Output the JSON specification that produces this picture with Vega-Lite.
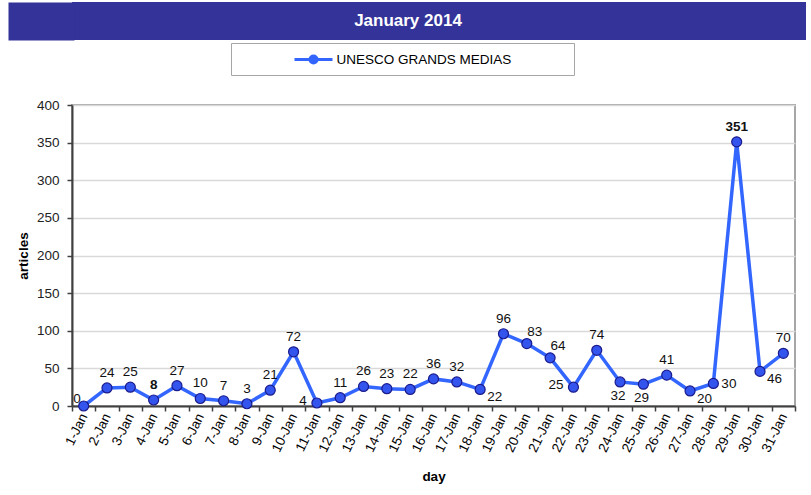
{
  "$schema": "https://vega.github.io/schema/vega-lite/v6.json",
  "padding": {"left": -11, "top": 2, "right": 0, "bottom": 0},
  "background": "white",
  "spacing": 57,
  "config": {"font": "Liberation Sans", "view": {"stroke": null}},
  "vconcat": [
    {
      "width": 734,
      "height": 38,
      "view": {"fill": "#333399", "stroke": null},
      "data": {"values": [{"title": "January 2014"}]},
      "mark": {"type": "text", "color": "white", "fontSize": 17, "fontWeight": "bold", "baseline": "middle", "dx": -31},
      "encoding": {
        "text": {"field": "title", "type": "nominal"},
        "y": {
          "datum": 0, "type": "quantitative",
          "scale": {"domain": [-1, 1]},
          "axis": {"values": [0], "offset": -2, "tickSize": 66, "tickWidth": 38, "tickColor": "#333399", "tickOpacity": 1, "labels": false, "domain": false, "grid": false, "title": null}
        }
      }
    },
    {
      "width": 723,
      "height": 301,
      "view": {"stroke": "#a6a6a6", "strokeWidth": 2},
      "data": {"values": [
        {"day": "1-Jan", "articles": 0},
        {"day": "2-Jan", "articles": 24},
        {"day": "3-Jan", "articles": 25},
        {"day": "4-Jan", "articles": 8},
        {"day": "5-Jan", "articles": 27},
        {"day": "6-Jan", "articles": 10},
        {"day": "7-Jan", "articles": 7},
        {"day": "8-Jan", "articles": 3},
        {"day": "9-Jan", "articles": 21},
        {"day": "10-Jan", "articles": 72},
        {"day": "11-Jan", "articles": 4},
        {"day": "12-Jan", "articles": 11},
        {"day": "13-Jan", "articles": 26},
        {"day": "14-Jan", "articles": 23},
        {"day": "15-Jan", "articles": 22},
        {"day": "16-Jan", "articles": 36},
        {"day": "17-Jan", "articles": 32},
        {"day": "18-Jan", "articles": 22},
        {"day": "19-Jan", "articles": 96},
        {"day": "20-Jan", "articles": 83},
        {"day": "21-Jan", "articles": 64},
        {"day": "22-Jan", "articles": 25},
        {"day": "23-Jan", "articles": 74},
        {"day": "24-Jan", "articles": 32},
        {"day": "25-Jan", "articles": 29},
        {"day": "26-Jan", "articles": 41},
        {"day": "27-Jan", "articles": 20},
        {"day": "28-Jan", "articles": 30},
        {"day": "29-Jan", "articles": 351},
        {"day": "30-Jan", "articles": 46},
        {"day": "31-Jan", "articles": 70}
      ]},
      "encoding": {
        "x": {
          "field": "day", "type": "ordinal", "sort": null,
          "scale": {"type": "band", "paddingInner": 0, "paddingOuter": 0},
          "axis": {
            "title": "day", "labelAngle": -64, "labelFontSize": 13.5, "labelColor": "#000",
            "labelPadding": 3, "tickBand": "extent", "tickSize": 5, "tickColor": "#404040",
            "tickWidth": 1.5, "domainColor": "#404040", "domainWidth": 2,
            "titleFontSize": 13.5, "titleFontWeight": "bold", "titleColor": "#000",
            "titlePadding": 16, "grid": false, "labelOverlap": false
          }
        },
        "y": {
          "field": "articles", "type": "quantitative",
          "scale": {"domain": [0, 400], "nice": false},
          "axis": {
            "title": "articles",
            "values": [0, 50, 100, 150, 200, 250, 300, 350, 400],
            "grid": true, "gridColor": "#d9d9d9", "gridWidth": 1.5,
            "domainColor": "#404040", "domainWidth": 2, "tickColor": "#404040",
            "tickSize": 5, "tickWidth": 1.5, "labelPadding": 8, "labelFontSize": 13.5,
            "labelColor": "#222", "titleFontSize": 13.5, "titleFontWeight": "bold",
            "titleColor": "#000", "titlePadding": 6
          }
        }
      },
      "layer": [
        {
          "mark": {"type": "line", "strokeWidth": 3.5},
          "encoding": {
            "color": {
              "datum": "UNESCO GRANDS MEDIAS",
              "scale": {"range": ["#3366ff"]},
              "legend": {
                "orient": "none", "legendX": 159, "legendY": 41, "title": null,
                "direction": "horizontal", "padding": 5.5,
                "strokeColor": "#a6a6a6", "fillColor": "white",
                "symbolType": "M-2,0H2M0.37,0A0.37,0.37,0,1,1,-0.37,0A0.37,0.37,0,1,1,0.37,0Z",
                "symbolSize": 361, "symbolStrokeWidth": 3,
                "symbolStrokeColor": "#3366ff", "symbolFillColor": "#3355ee",
                "symbolOffset": 66, "labelOffset": 12,
                "labelFontSize": 13.5, "labelColor": "#000", "labelLimit": 400,
                "labelExpr": "datum.label + '\u00a0\u00a0\u00a0\u00a0\u00a0\u00a0\u00a0\u00a0\u00a0\u00a0\u00a0\u00a0\u00a0\u00a0\u00a0\u200b'",
                "encode": {
                  "symbols": {
                    "update": {
                      "fill": {"value": "#3355ee"},
                      "stroke": {"value": "#3366ff"},
                      "strokeWidth": {"value": 3},
                      "opacity": {"value": 1}
                    }
                  }
                }
              }
            }
          }
        },
        {
          "mark": {"type": "point", "filled": true, "fill": "#3355ee", "stroke": "#1a1a8c", "strokeWidth": 1.2, "size": 100, "opacity": 1, "fillOpacity": 1}
        },
        {
          "transform": [{"filter": {"not": {"field": "day", "oneOf": ["1-Jan", "11-Jan", "22-Jan", "28-Jan", "18-Jan", "27-Jan", "30-Jan", "24-Jan", "25-Jan", "20-Jan", "21-Jan", "4-Jan", "29-Jan"]}}}],
          "mark": {"type": "text", "fontSize": 13.5, "color": "#111", "dy": -15, "align": "center", "baseline": "middle"},
          "encoding": {"text": {"field": "articles", "type": "quantitative"}}
        },
        {
          "transform": [{"filter": {"field": "day", "oneOf": ["4-Jan", "29-Jan"]}}],
          "mark": {"type": "text", "fontSize": 13.5, "fontWeight": "bold", "color": "#111", "dy": -15, "align": "center", "baseline": "middle"},
          "encoding": {"text": {"field": "articles", "type": "quantitative"}}
        },
        {
          "transform": [{"filter": {"field": "day", "oneOf": ["20-Jan", "21-Jan"]}}],
          "mark": {"type": "text", "fontSize": 13.5, "color": "#111", "dx": 8, "dy": -12, "align": "center", "baseline": "middle"},
          "encoding": {"text": {"field": "articles", "type": "quantitative"}}
        },
        {
          "transform": [{"filter": {"field": "day", "oneOf": ["11-Jan", "22-Jan"]}}],
          "mark": {"type": "text", "fontSize": 13.5, "color": "#111", "dx": -10, "dy": -2, "align": "right", "baseline": "middle"},
          "encoding": {"text": {"field": "articles", "type": "quantitative"}}
        },
        {
          "transform": [{"filter": {"field": "day", "oneOf": ["1-Jan"]}}],
          "mark": {"type": "text", "fontSize": 13.5, "color": "#111", "dx": -3, "dy": -7, "align": "right", "baseline": "middle"},
          "encoding": {"text": {"field": "articles", "type": "quantitative"}}
        },
        {
          "transform": [{"filter": {"field": "day", "oneOf": ["28-Jan"]}}],
          "mark": {"type": "text", "fontSize": 13.5, "color": "#111", "dx": 8, "dy": 1, "align": "left", "baseline": "middle"},
          "encoding": {"text": {"field": "articles", "type": "quantitative"}}
        },
        {
          "transform": [{"filter": {"field": "day", "oneOf": ["18-Jan", "27-Jan", "30-Jan"]}}],
          "mark": {"type": "text", "fontSize": 13.5, "color": "#111", "dx": 7, "dy": 8, "align": "left", "baseline": "middle"},
          "encoding": {"text": {"field": "articles", "type": "quantitative"}}
        },
        {
          "transform": [{"filter": {"field": "day", "oneOf": ["24-Jan", "25-Jan"]}}],
          "mark": {"type": "text", "fontSize": 13.5, "color": "#111", "dx": -2, "dy": 14, "align": "center", "baseline": "middle"},
          "encoding": {"text": {"field": "articles", "type": "quantitative"}}
        }
      ]
    }
  ]
}
